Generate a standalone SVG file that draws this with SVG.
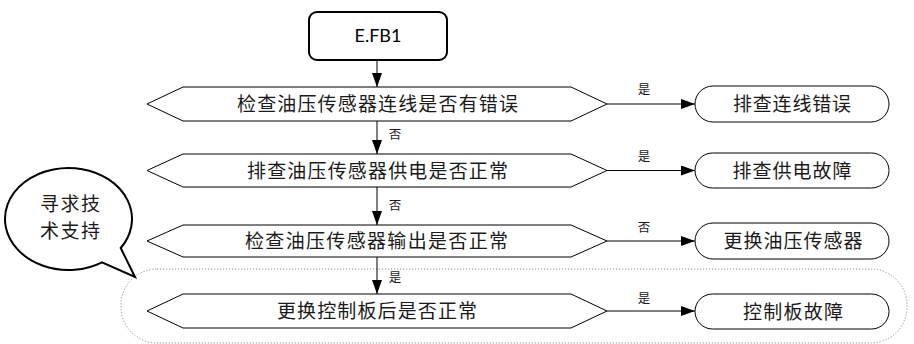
<svg xmlns="http://www.w3.org/2000/svg" width="914" height="344" viewBox="0 0 914 344">
<style>
.shape{fill:#fff;stroke:#000;stroke-width:1}
.t{font-family:"Noto Sans CJK SC","Noto Sans",sans-serif;font-size:19px;fill:#1a1a1a;text-anchor:middle}
.lbl{font-family:"Noto Sans CJK SC","Noto Sans",sans-serif;font-size:12.5px;fill:#1a1a1a;text-anchor:middle}
.conn{stroke:#000;stroke-width:1;fill:none;marker-end:url(#ah)}
</style>
<defs>
<marker id="ah" markerUnits="userSpaceOnUse" markerWidth="14" markerHeight="10" refX="14" refY="5" orient="auto">
<path d="M0,0 L14,5 L0,10 z" fill="#000"/>
</marker>
</defs>
<rect x="0" y="0" width="914" height="344" fill="#fff"/>
<g id="group-area">
<rect x="121" y="269" width="786" height="74" rx="36" fill="none" stroke="#8c8c8c" stroke-width="1" stroke-dasharray="1.2 1.8"/>
</g>
<g id="bubble">
<path d="M120.7,248 L135,277 L102,262.3 A63.5 51 0 1 1 120.7,248 Z" fill="#fff" stroke="#000" stroke-width="2" stroke-linejoin="miter"/>
<text class="t" x="70" y="211" textLength="60" lengthAdjust="spacing">寻求技</text>
<text class="t" x="70" y="238" textLength="60" lengthAdjust="spacing">术支持</text>
</g>
<g id="start">
<rect x="309" y="12" width="138" height="48" rx="8" fill="#fff" stroke="#000" stroke-width="2"/>
<text x="378" y="42" font-family="Lato,'Liberation Sans',sans-serif" font-size="18" fill="#000" text-anchor="middle">E.FB1</text>
</g>
<g id="d1">
<polygon class="shape" points="147,104 183,87 571,87 607,104 571,121 183,121"/>
<text class="t" x="377.5" y="111" textLength="281" lengthAdjust="spacing">检查油压传感器连线是否有错误</text>
</g>
<g id="d2">
<polygon class="shape" points="147,170.5 183,154 571,154 607,170.5 571,187 183,187"/>
<text class="t" x="377.5" y="177.5" textLength="261" lengthAdjust="spacing">排查油压传感器供电是否正常</text>
</g>
<g id="d3">
<polygon class="shape" points="147,241 183,225 571,225 607,241 571,257 183,257"/>
<text class="t" x="376.5" y="248" textLength="263" lengthAdjust="spacing">检查油压传感器输出是否正常</text>
</g>
<g id="d4">
<polygon class="shape" points="147,311 183,294 571,294 607,311 571,328 183,328"/>
<text class="t" x="377" y="318" textLength="200" lengthAdjust="spacing">更换控制板后是否正常</text>
</g>
<g id="r1">
<rect class="shape" x="695" y="86" width="194" height="36" rx="18"/>
<text class="t" x="792" y="111" textLength="118" lengthAdjust="spacing">排查连线错误</text>
</g>
<g id="r2">
<rect class="shape" x="695" y="153" width="194" height="35" rx="17.5"/>
<text class="t" x="792" y="177.5" textLength="119" lengthAdjust="spacing">排查供电故障</text>
</g>
<g id="r3">
<rect class="shape" x="695" y="223" width="194" height="36" rx="18"/>
<text class="t" x="793" y="248" textLength="139" lengthAdjust="spacing">更换油压传感器</text>
</g>
<g id="r4">
<rect class="shape" x="695" y="294" width="194" height="35" rx="17.5"/>
<text class="t" x="793" y="318.5" textLength="100" lengthAdjust="spacing">控制板故障</text>
</g>
<g id="connectors">
<line class="conn" x1="377" y1="60" x2="377" y2="87"/>
<line class="conn" x1="377" y1="121" x2="377" y2="154"/>
<line class="conn" x1="377" y1="187" x2="377" y2="225"/>
<line class="conn" x1="377" y1="257" x2="377" y2="294"/>
<line class="conn" x1="607" y1="104" x2="695" y2="104"/>
<line class="conn" x1="607" y1="170.5" x2="695" y2="170.5"/>
<line class="conn" x1="607" y1="241" x2="695" y2="241"/>
<line class="conn" x1="607" y1="311" x2="695" y2="311"/>
<text class="lbl" x="395" y="139">否</text>
<text class="lbl" x="395" y="210">否</text>
<text class="lbl" x="395" y="282">是</text>
<text class="lbl" x="644" y="94">是</text>
<text class="lbl" x="644" y="161">是</text>
<text class="lbl" x="644" y="232">否</text>
<text class="lbl" x="644" y="303">是</text>
</g>
</svg>
